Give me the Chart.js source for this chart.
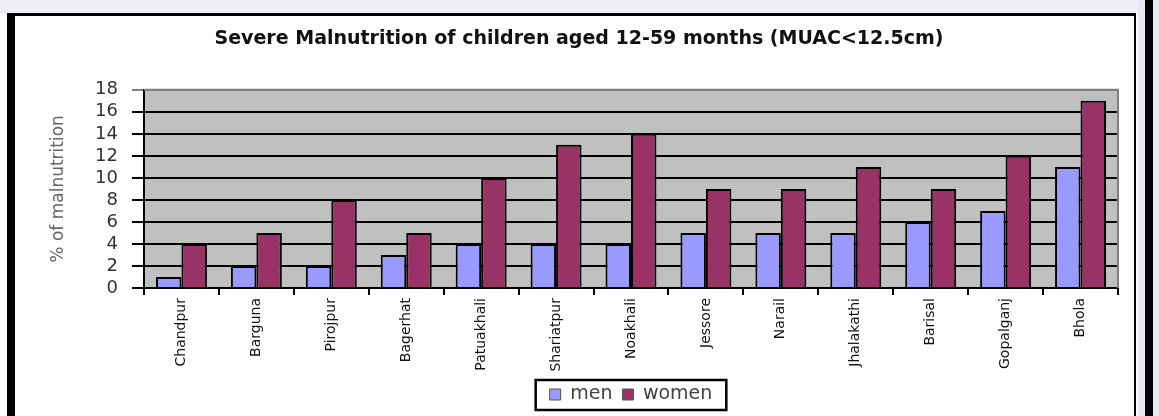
<!DOCTYPE html>
<html>
<head>
<meta charset="utf-8">
<title>Severe Malnutrition</title>
<script src="https://cdn.jsdelivr.net/npm/chart.js@4.4.1/dist/chart.umd.min.js"></script>
<style>
  html, body { margin: 0; padding: 0; background: #fff; }
  #wrap { position: relative; width: 1159px; height: 416px; overflow: hidden; }
  .deco { position: absolute; }
  canvas { position: absolute; left: 0; top: 0; }
</style>
</head>
<body>
<div id="wrap">
  <!-- window frame around the chart -->
  <div class="deco" style="left:0;top:0;width:1159px;height:13px;background:#eceef4"></div>
  <div class="deco" style="left:10px;top:13px;width:1126px;height:3px;background:#000"></div>
  <div class="deco" style="left:7px;top:13px;width:8px;height:403px;background:#000"></div>
  <div class="deco" style="left:1134px;top:13px;width:2px;height:403px;background:#000"></div>
  <div class="deco" style="left:1138px;top:0;width:21px;height:416px;background:#e8eaf2"></div>
  <div class="deco" style="left:1145px;top:0;width:8px;height:416px;background:#000"></div>
  <canvas id="chart" width="1159" height="416"></canvas>
</div>

<script>
// Data
const districts = ['Chandpur', 'Barguna', 'Pirojpur', 'Bagerhat', 'Patuakhali', 'Shariatpur',
  'Noakhali', 'Jessore', 'Narail', 'Jhalakathi', 'Barisal', 'Gopalganj', 'Bhola'];
const menValues = [1, 2, 2, 3, 4, 4, 4, 5, 5, 5, 6, 7, 11];
const womenValues = [4, 5, 8, 5, 10, 13, 14, 9, 9, 11, 9, 12, 17];
const yMin = 0;
const yMax = 18;
const yStep = 2;

// Grey plot area with a grey border on top and right
const plotArea = {
  id: 'plotArea',
  beforeDraw(chart) {
    const a = chart.chartArea;
    const ctx = chart.ctx;
    ctx.save();
    ctx.fillStyle = '#c0c0c0';
    ctx.fillRect(a.left, a.top, a.right - a.left, a.bottom - a.top);
    ctx.restore();
  },
  beforeDatasetsDraw(chart) {
    const a = chart.chartArea;
    const ctx = chart.ctx;
    ctx.save();
    ctx.strokeStyle = '#808080';
    ctx.lineWidth = 2;
    ctx.beginPath();
    ctx.moveTo(a.left, a.top);
    ctx.lineTo(a.right, a.top);
    ctx.lineTo(a.right, a.bottom);
    ctx.stroke();
    ctx.restore();
  }
};

// Black frame around the legend items
const legendFrame = {
  id: 'legendFrame',
  afterDraw(chart) {
    const boxes = chart.legend && chart.legend.legendHitBoxes;
    if (!boxes || !boxes.length) return;
    let left = Infinity, right = -Infinity, top = Infinity, bottom = -Infinity;
    boxes.forEach(b => {
      left = Math.min(left, b.left);
      right = Math.max(right, b.left + b.width);
      top = Math.min(top, b.top);
      bottom = Math.max(bottom, b.top + b.height);
    });
    const ctx = chart.ctx;
    ctx.save();
    ctx.strokeStyle = '#000';
    ctx.lineWidth = 2.5;
    ctx.strokeRect(left - 14, top - 5, right - left + 28, bottom - top + 11);
    ctx.restore();
  }
};

const ctx = document.getElementById('chart').getContext('2d');
const malnutritionChart = new Chart(ctx, {
  type: 'bar',
  data: {
    labels: districts,
    datasets: [{
      label: 'men',
      data: menValues,
      backgroundColor: '#9999ff',
      borderColor: '#000',
      borderWidth: 2
    }, {
      label: 'women',
      data: womenValues,
      backgroundColor: '#993366',
      borderColor: '#000',
      borderWidth: 2
    }]
  },
  options: {
    responsive: false,
    animation: false,
    devicePixelRatio: 1,
    layout: { padding: { left: 40, right: 41, top: 0, bottom: 2 } },
    datasets: {
      bar: { categoryPercentage: 0.68, barPercentage: 1.0 }
    },
    plugins: {
      title: {
        display: true,
        text: 'Severe Malnutrition of children aged 12-59 months (MUAC<12.5cm)',
        color: '#111',
        font: { family: 'DejaVu Sans', size: 19, weight: 'bold' },
        padding: { top: 28, bottom: 39 }
      },
      legend: {
        position: 'bottom',
        fullSize: false,
        labels: {
          color: '#444',
          font: { family: 'DejaVu Sans', size: 19 },
          boxWidth: 11,
          boxHeight: 11,
          padding: 10,
          generateLabels(chart) {
            const items = Chart.defaults.plugins.legend.labels.generateLabels(chart);
            items.forEach(item => { item.lineWidth = 1; item.strokeStyle = '#555'; });
            return items;
          }
        }
      },
      tooltip: { enabled: false }
    },
    scales: {
      x: {
        offset: true,
        grid: {
          offset: true,
          drawOnChartArea: false,
          color: '#000',
          lineWidth: 2,
          tickLength: 7
        },
        border: { color: '#000', width: 2 },
        ticks: {
          minRotation: 90,
          maxRotation: 90,
          autoSkip: false,
          padding: 3,
          color: '#111',
          font: { family: 'DejaVu Sans', size: 14 }
        },
        afterFit(scale) { scale.height = 87; }
      },
      y: {
        min: yMin,
        max: yMax,
        ticks: {
          stepSize: yStep,
          autoSkip: false,
          padding: 14,
          color: '#333',
          font: { family: 'DejaVu Sans', size: 18 }
        },
        grid: {
          color: c => (c.tick && c.tick.value === yMax) ? '#808080' : '#000',
          lineWidth: 2,
          tickLength: 12
        },
        border: { color: '#000', width: 2 },
        title: {
          display: true,
          text: '% of malnutrition',
          color: '#666',
          font: { family: 'DejaVu Sans', size: 17 },
          padding: { top: 8, bottom: 0 }
        },
        afterFit(scale) { scale.width = 104; }
      }
    }
  },
  plugins: [plotArea, legendFrame]
});
</script>
</body>
</html>
